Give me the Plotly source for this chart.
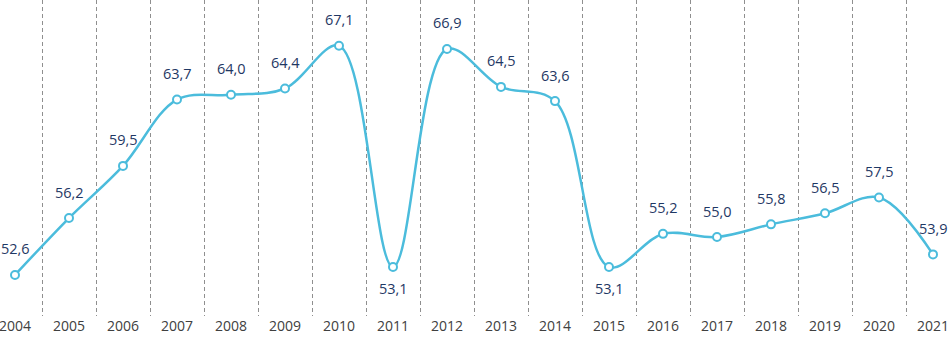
import plotly.graph_objects as go

years = [str(y) for y in range(2004, 2022)]
values = [52.6, 56.2, 59.5, 63.7, 64.0, 64.4, 67.1, 53.1, 66.9, 64.5, 63.6, 53.1, 55.2, 55.0, 55.8, 56.5, 57.5, 53.9]
label_pos = ["top", "top", "top", "top", "top", "top", "top", "bottom", "top", "top", "top",
             "bottom", "top", "top", "top", "top", "top", "top"]

LINE = "#4BBCDC"
LABEL = "#1F3864"

xs = list(range(len(years)))

fig = go.Figure()
fig.add_trace(go.Scatter(
    x=xs, y=values, mode="lines+markers",
    line=dict(color=LINE, width=2.5, shape="spline", smoothing=1.0),
    marker=dict(symbol="circle", size=8, color="white", line=dict(color=LINE, width=2)),
    hoverinfo="skip", showlegend=False,
))

for x, v, p in zip(xs, values, label_pos):
    fig.add_annotation(
        x=x, y=v, text=f"{v:.1f}".replace(".", ","), showarrow=False,
        yshift=26 if p == "top" else -21,
        font=dict(family="Open Sans", size=14.5, color=LABEL),
    )

fig.update_layout(
    width=950, height=337,
    margin=dict(l=0, r=0, t=0, b=21),
    paper_bgcolor="white", plot_bgcolor="white",
    xaxis=dict(
        range=[-15 / 54, 17 + 17 / 54],
        tickmode="array", tickvals=xs, ticktext=years,
        showgrid=False, zeroline=False, showline=False, ticks="",
        ticklabeloverflow="allow",
        tickfont=dict(family="Open Sans", size=14, color="#404040"),
        minor=dict(tick0=0.5, dtick=1, showgrid=True, gridcolor="#8F8F8F",
                   gridwidth=1, griddash="4px,3px", ticks=""),
    ),
    yaxis=dict(range=[50, 70], visible=False, showgrid=False, zeroline=False),
)

fig.write_html("out.html", config={"displayModeBar": False},
               post_script="document.body.style.margin='0';document.body.style.overflow='hidden';")
